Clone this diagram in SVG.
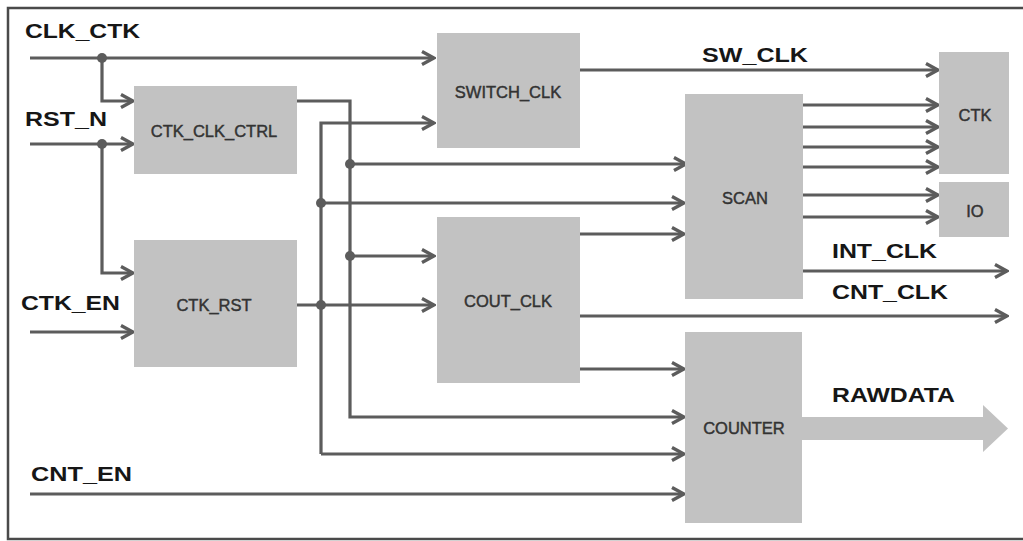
<svg xmlns="http://www.w3.org/2000/svg" width="1023" height="541" viewBox="0 0 1023 541">
<style>
.box{fill:#c2c2c2}
.bt{font-family:"Liberation Sans",Arial,sans-serif;font-size:16.5px;fill:#333;stroke:#333;stroke-width:0.45;text-anchor:middle}
.lb{font-family:"Liberation Sans",Arial,sans-serif;font-size:21px;font-weight:bold;fill:#161616}
.w{fill:none;stroke:#5c5c5c;stroke-width:3.2}
.a{marker-end:url(#ah)}
.dot{fill:#5c5c5c}
</style>
<defs>
<marker id="ah" markerUnits="userSpaceOnUse" viewBox="0 0 16 16" refX="14" refY="8" markerWidth="16" markerHeight="16" orient="auto">
<path d="M2,1.5 L14,8 L2,14.5" fill="none" stroke="#5c5c5c" stroke-width="3.4"/>
</marker>
</defs>
<rect x="0" y="0" width="1023" height="541" fill="#fff"/>
<rect id="frame" x="8" y="8" width="1030" height="531" fill="none" stroke="#4a4a4a" stroke-width="2.5"/>

<g id="connectors">
<path class="w a" d="M30,58 H434"/>
<path class="w a" d="M102,58 V101 H133"/>
<path class="w a" d="M30,144 H133"/>
<path class="w a" d="M102,144 V273 H133"/>
<path class="w a" d="M30,332 H133"/>
<path class="w a" d="M30,494 H684"/>
<path class="w a" d="M297,101 H350 V417 H684"/>
<path class="w a" d="M350,164 H686"/>
<path class="w a" d="M350,256 H434"/>
<path class="w a" d="M297,305 H434"/>
<path class="w a" d="M321,454 V123 H434"/>
<path class="w a" d="M321,454 H684"/>
<path class="w a" d="M321,203 H684"/>
<path class="w a" d="M580,70 H938"/>
<path class="w a" d="M803,105 H938"/>
<path class="w a" d="M803,127 H938"/>
<path class="w a" d="M803,147 H938"/>
<path class="w a" d="M803,167 H938"/>
<path class="w a" d="M803,195 H938"/>
<path class="w a" d="M803,217 H938"/>
<path class="w a" d="M803,271 H1007"/>
<path class="w a" d="M580,234 H684"/>
<path class="w a" d="M580,316 H1007"/>
<path class="w a" d="M580,369 H684"/>
<polygon points="802,417 983,417 983,405 1008,428.5 983,452 983,440 802,440" fill="#c2c2c2"/>
<circle class="dot" cx="102" cy="58" r="5"/>
<circle class="dot" cx="102" cy="144" r="5"/>
<circle class="dot" cx="350" cy="164" r="5"/>
<circle class="dot" cx="350" cy="256" r="5"/>
<circle class="dot" cx="321" cy="203" r="5"/>
<circle class="dot" cx="321" cy="305" r="5"/>
</g>

<g id="CTK_CLK_CTRL"><rect class="box" x="134" y="86" width="163" height="88"/><text class="bt" x="214" y="137">CTK_CLK_CTRL</text></g>
<g id="CTK_RST"><rect class="box" x="134" y="240" width="163" height="127"/><text class="bt" x="214" y="311">CTK_RST</text></g>
<g id="SWITCH_CLK"><rect class="box" x="437" y="33" width="143" height="115"/><text class="bt" x="508" y="98">SWITCH_CLK</text></g>
<g id="COUT_CLK"><rect class="box" x="437" y="217" width="143" height="166"/><text class="bt" x="508" y="307">COUT_CLK</text></g>
<g id="SCAN"><rect class="box" x="685" y="94" width="118" height="205"/><text class="bt" x="745" y="204">SCAN</text></g>
<g id="COUNTER"><rect class="box" x="685" y="332" width="117" height="191"/><text class="bt" x="744" y="434">COUNTER</text></g>
<g id="CTK"><rect class="box" x="939" y="52" width="70" height="122"/><text class="bt" x="975" y="121">CTK</text></g>
<g id="IO"><rect class="box" x="939" y="182" width="70" height="55"/><text class="bt" x="975" y="217">IO</text></g>

<g id="labels">
<text class="lb" x="25" y="38" textLength="115" lengthAdjust="spacingAndGlyphs">CLK_CTK</text>
<text class="lb" x="25" y="126" textLength="82" lengthAdjust="spacingAndGlyphs">RST_N</text>
<text class="lb" x="21" y="310" textLength="99" lengthAdjust="spacingAndGlyphs">CTK_EN</text>
<text class="lb" x="31" y="481" textLength="101" lengthAdjust="spacingAndGlyphs">CNT_EN</text>
<text class="lb" x="702" y="62" textLength="106" lengthAdjust="spacingAndGlyphs">SW_CLK</text>
<text class="lb" x="832" y="258" textLength="105" lengthAdjust="spacingAndGlyphs">INT_CLK</text>
<text class="lb" x="832" y="299" textLength="116" lengthAdjust="spacingAndGlyphs">CNT_CLK</text>
<text class="lb" x="832" y="402" textLength="123" lengthAdjust="spacingAndGlyphs">RAWDATA</text>
</g>
</svg>
